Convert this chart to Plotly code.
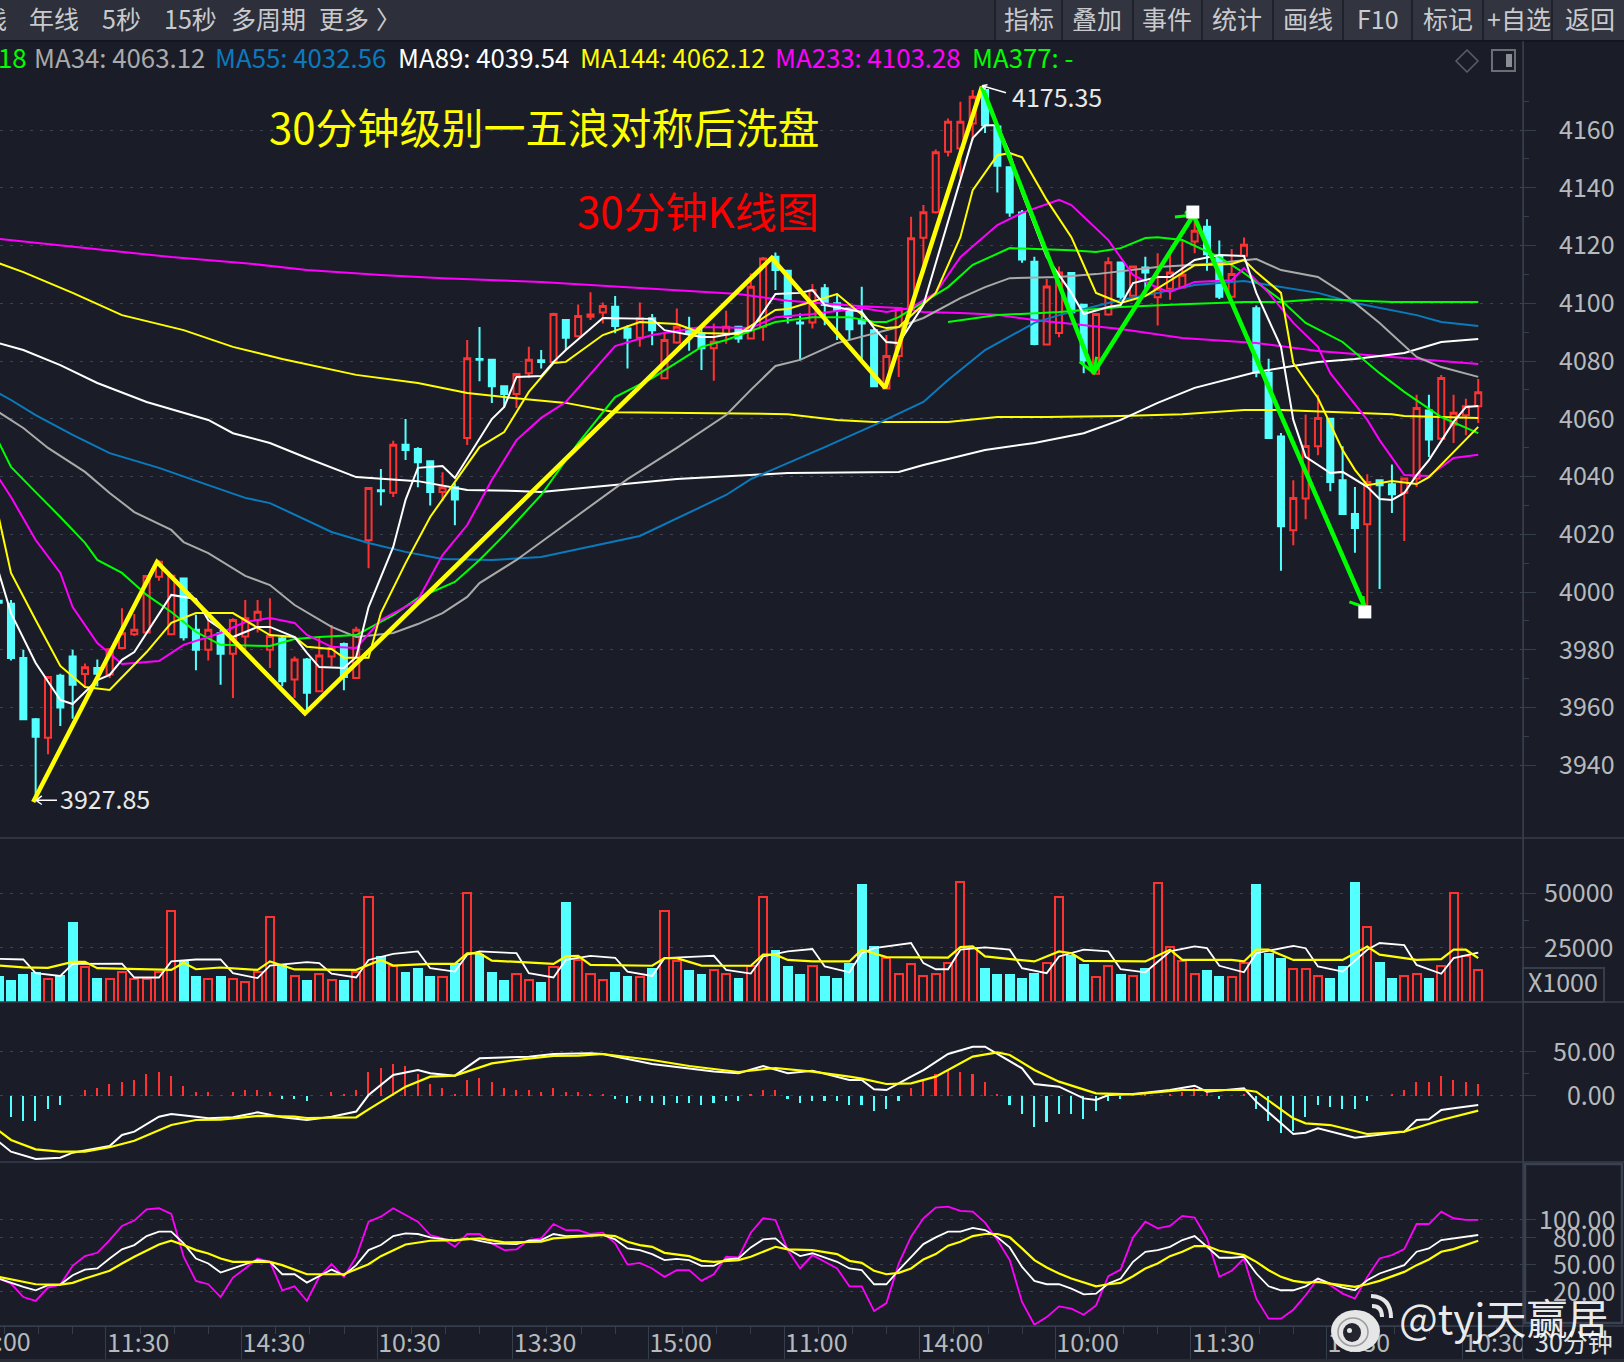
import plotly.graph_objects as go

W, H = 1624, 1362
BG = "#1a1d27"
CYAN = "#54ffff"
RED = "#ff3232"
MAGENTA = "#ff00ff"
YELLOW = "#ffff00"
GREEN = "#00ff00"
BLUE = "#0a7abf"
GRAY = "#aaaaaa"
WHITE = "#ffffff"
AXIS = "#363d4b"
GRID = "#3b4250"
LABEL = "#b6babd"
FONT = "Noto Sans CJK SC"

# Thirty-minute bars, numbered from -1 so the first one sits on the left edge
bars = list(range(-1, 120))
opens = [3997.0,3995.9,3977.1,3955.9,3949.5,3971,3977.7,3971.6,3973.7,3971.4,3980.6,3985.4,3986,4005.3,3985.4,4004.7,3986.9,3980,3985.7,3978.6,3984.6,3990.3,3980,3984,3969.7,3976.6,3965.6,3977.7,3982,3970.2,4017.9,4035.2,4034.4,4051,4049.5,4045.3,4034.6,4036.3,4053.3,4080.7,4080.4,4071.3,4068.6,4075.8,4080.3,4079.7,4094.2,4088.6,4095.3,4096.8,4098.8,4091.3,4088.1,4094.8,4074,4086.4,4091.3,4089.6,4084.4,4089,4091.9,4087.8,4091.9,4116.1,4111.3,4093.3,4093.3,4105.2,4100,4098.2,4094.2,4090.7,4070.5,4081.7,4098.2,4122.7,4131.5,4152.5,4153.6,4162.3,4173.9,4161.2,4147.1,4131.4,4114.4,4085.7,4089.7,4110.5,4099.5,4075.6,4096.1,4114.1,4102.6,4112.4,4102.1,4105,4105.5,4121.4,4126.5,4116.5,4102.3,4116.5,4098.3,4075.9,4053.9,4021.4,4032.4,4050.5,4060,4038.7,4027,4023.5,4038.7,4037.3,4034.4,4039.3,4062.9,4053.1,4057.9,4061.2,4064.3]
highs = [3997.4,3997.2,3980,3956.4,3970.8,3971.7,3980,3975.2,3976.6,3980.6,3994.4,3992.4,4005.9,4011,4005.9,4004.7,3992.1,3990.3,3986.9,3990.9,3997.2,3997.2,3997.8,3984.4,3977.7,3977.1,3984.6,3988.6,3982.5,3988,4036,4042.6,4052.4,4059.9,4050.1,4045.5,4041.5,4037.7,4087.3,4091.8,4080.4,4071.3,4075.5,4084.9,4083.8,4096.7,4094.2,4099.6,4103.8,4100.3,4102.5,4092.4,4100.3,4096.3,4089.6,4098.2,4095.3,4091.9,4093,4097.4,4092.1,4110.3,4116,4117.6,4111.5,4096.5,4106.7,4106.7,4103.4,4098.2,4105.7,4091.3,4089,4098.6,4130,4134,4153.3,4164,4169.8,4173.9,4175.35,4161.4,4147.3,4132.3,4116.1,4108.4,4112.7,4110.5,4099.5,4096.3,4115.9,4114.2,4112.9,4116.1,4117.3,4118.4,4121.7,4128.6,4129.1,4121.7,4118.8,4122.8,4099.2,4080.8,4055.1,4038.7,4061.5,4068.3,4060,4050.5,4036.4,4040.8,4038.7,4044.2,4039.3,4068.3,4068.3,4075.2,4068.3,4066.9,4073.8]
lows = [3996.0,3976.3,3955.6,3927.85,3943.8,3953.6,3956.1,3966.8,3967.4,3970.2,3980.6,3984.8,3985.7,4003.9,3985.4,3983.2,3972.9,3976.3,3967.9,3963.3,3980,3986,3973.7,3967.4,3963.3,3959.3,3965.3,3974.3,3966,3970.2,4008.2,4030,4032.9,4045.7,4036.3,4030,4031.5,4023.1,4050.9,4073,4065.5,4064,4063.7,4074.1,4077.4,4079.2,4083.8,4088.4,4094.2,4093,4089.6,4077.4,4084.9,4085.5,4074,4086,4083.6,4076.9,4073.2,4086,4086.3,4087.8,4087,4104.6,4093,4080.3,4091.3,4092.4,4087.3,4087.3,4080.3,4071.3,4070.5,4074.5,4098.2,4110.3,4131.1,4150.8,4143.8,4156.5,4159,4138.4,4130,4114,4085.5,4085.7,4088.2,4096.3,4075.8,4075.3,4095.7,4100.9,4102.6,4103.2,4092.3,4101.2,4105.5,4117.3,4111.3,4101.5,4102.3,4115.9,4074.4,4053.1,4007.4,4016.2,4025.2,4047.4,4034.9,4027,4013.6,3994.9,4001,4027.4,4017.7,4036.4,4046.8,4053.1,4051.6,4054.3,4058.5]
closes = [3996.3,3977.1,3955.9,3949.9,3970.6,3960,3967.9,3973.9,3971.7,3980.2,3985.7,3986.9,4005.5,4010.5,4005.6,3984.3,3980,3986.9,3978.6,3990.3,3990.9,3993.2,3984.8,3969.1,3976.6,3965.1,3978,3980.6,3970.6,3986.9,4036,4034.9,4051,4049.2,4044.9,4034.6,4036.3,4032,4081,4080.4,4071.3,4068.6,4075.5,4080.4,4079.7,4096.3,4088.1,4095.6,4096.1,4099.1,4092.1,4088.1,4094.8,4090.7,4087.3,4091.9,4089.6,4084.4,4086.7,4091.9,4087.8,4105.7,4115.5,4111.5,4095.3,4093,4104.6,4099.4,4097.6,4091,4093,4071.3,4081.7,4098.2,4122.5,4131.5,4152.3,4162.9,4162.9,4171.5,4161.7,4147.6,4131.4,4115.2,4085.9,4105.8,4110.7,4096.9,4080.2,4096.3,4114.2,4102.3,4112.7,4110.7,4105,4110.7,4109.9,4125.1,4117,4102.3,4110.1,4120.3,4075.9,4053.3,4022.8,4032.6,4050.6,4060.3,4038.1,4027,4022.2,4038.1,4037,4033.9,4039.3,4063.7,4052.8,4074.1,4062.1,4064.3,4069.2]

# Moving averages, given at the bars where each line visibly bends
ma233_x = [-1,5,13,19,24,30,35,43,51,56,59,63,69,72,74,77,80,83,90,95,101,106,112,119]
ma233_y = [4122.3,4119.5,4116,4113.9,4111.5,4109.8,4108.7,4107.4,4105.3,4103.9,4103.2,4100.9,4099,4098.4,4097,4096.6,4096,4094.2,4091.1,4088,4086.2,4083.5,4081.4,4079]
ma144_x = [-1,1,5,9,14,18,22,28,33,37,40,45,49,58,63,67,70,76,80,84,90,95,100,103,108,112,113,119]
ma144_y = [4113.9,4110.8,4103.6,4095.9,4090.7,4084.9,4080.7,4075.2,4072.4,4068.9,4067.5,4065.5,4062.3,4062,4061.6,4059.6,4058.9,4058.9,4060.6,4060.6,4061,4061.6,4063,4063,4062.3,4061.6,4061,4060.3]
ma89_x = [-1,1,4,7,11,16,18,21,24,28,33,37,41,43,54,63,72,74,79,83,87,90,93,96,101,106,109,113,116,119]
ma89_y = [4086.2,4083.8,4078.6,4072.4,4065.8,4059.6,4055,4051.6,4046.4,4039.8,4038.4,4035.3,4035,4034.6,4039.1,4041.2,4041.6,4044,4049.2,4051.6,4055,4059.6,4065.5,4070.7,4076.2,4079.7,4080.7,4082.8,4086.6,4087.6]
ma55_x = [-1,0,2,5,8,12,16,19,21,23,26,29,32,35,39,43,51,58,60,66,70,74,76,79,83,85,90,93,96,100,102,106,109,114,116,119]
ma55_y = [4068.9,4066.5,4061.3,4054.4,4048.1,4043,4037,4032.6,4030.8,4026.7,4020.8,4017,4013.9,4011.4,4011.1,4012.1,4019.4,4033.6,4039.1,4050.2,4057.8,4065.8,4073.4,4083.8,4093.2,4095.9,4101.1,4103.6,4106.3,4107.7,4106.3,4103.6,4100.1,4095.9,4093.5,4092.1]
ma34_x = [-1,1,3,6,8,10,13,14,16,19,21,23,26,28,31,33,35,37,38,41,43,50,54,58,60,62,64,67,72,74,77,79,81,85,88,93,97,101,103,106,108,111,114,116,119]
ma34_y = [4062.3,4056.8,4049.9,4041.6,4034.3,4027.7,4021.5,4017.3,4013.5,4005.6,4002.4,3995.5,3987.9,3984.4,3985.8,3988.9,3992.7,3998.3,4003.1,4011.1,4017.3,4039.1,4049.9,4061.3,4070,4078.3,4080.4,4086.2,4091.8,4094.9,4101.8,4105.6,4108.7,4109.1,4110.1,4112.6,4113.6,4115.3,4111.5,4109.1,4103.6,4093.2,4081.4,4077.9,4074.5]
ma21_x = [-1,0,2,4,6,7,9,11,13,15,17,21,23,25,28,31,33,36,38,40,43,46,49,52,56,58,62,65,68,70,71,72,76,78,81,86,88,90,92,93,95,98,100,103,105,108,111,113,116,119]
ma21_y = [4051.9,4043.3,4034.6,4026,4017,4011.1,4006.6,3999,3993.1,3986.2,3981.7,3981.3,3983.7,3984.4,3985.1,3992,3997.9,4003.5,4011.1,4019.7,4033.6,4051.6,4067.5,4074.1,4084.9,4087.3,4093.5,4095.2,4095.2,4093.5,4093.5,4095.2,4105.6,4113.3,4119.1,4118.4,4117.8,4119.1,4122.6,4122.9,4121.9,4116,4110.5,4101.1,4093.2,4086.6,4075.8,4069.3,4060.6,4055]
ma377_x = [76,80,85,90,95,100,103,106,112,119]
ma377_y = [4093.5,4095.9,4097,4098.7,4099.7,4100.4,4100.4,4101.5,4100.4,4100.4]
ma13_x = [-1,0,2,4,5,7,9,12,14,17,19,21,23,24,26,28,30,33,35,37,39,41,43,45,49,52,56,60,62,65,69,71,73,75,77,80,82,85,86,89,91,93,94,96,99,100,102,104,106,107,110,111,113,115,117,119]
ma13_y = [4039.5,4032.9,4018,4006.6,3994.8,3982.3,3975.1,3976.1,3981.7,3985.8,3989.6,3991,3989.3,3985.1,3981,3980.6,3990.3,3997.2,4012.8,4023.2,4038.8,4052.6,4060.3,4065.8,4085.2,4089,4091.8,4091.4,4095.2,4096.3,4098.4,4097,4098.4,4103.6,4116,4127.1,4131.3,4135.8,4134,4121.9,4109.8,4105.3,4103.9,4107.4,4108,4112.2,4103.6,4093.2,4084.9,4075.8,4059.6,4052.6,4040.5,4040.2,4046.4,4047.5]
ma8_x = [-1,0,2,4,6,8,11,13,15,18,21,23,24,26,27,29,30,32,34,38,40,42,44,45,48,51,54,56,59,62,63,67,70,71,72,75,77,78,80,81,82,84,86,88,90,92,96,99,100,101,103,104,106,108,109,110,112,114,115,117,119]
ma8_y = [4026,4006.6,3990.3,3974.4,3967.1,3966.1,3979.2,3989.3,3992.7,3992.7,3985.1,3984.4,3981,3980.3,3977.2,3977.2,3992.7,4010,4026,4050.2,4055.4,4069.3,4079.3,4079.7,4089,4093.5,4092.8,4089.7,4089.4,4097.7,4098,4103.2,4092.5,4091.4,4091.8,4103.6,4122.9,4139.2,4151.3,4152,4150.6,4135.8,4122.9,4103.6,4100.1,4102.5,4113.2,4113.6,4115,4110.8,4103.6,4079.3,4067.2,4049.2,4042.3,4037,4038.4,4037.4,4039.8,4048.5,4057.2]
ma5_x = [-1,0,2,4,5,7,8,9,10,12,13,15,16,18,20,21,23,24,25,27,28,29,31,32,33,35,36,39,40,41,43,44,45,48,52,53,56,57,60,62,64,65,66,69,70,71,72,74,75,76,78,79,80,81,82,84,86,87,89,90,91,93,94,96,98,100,101,103,104,105,107,108,110,111,112,113,114,115,117,118,119]
ma5_y = [4006.9,3992.7,3975.4,3962.6,3961.2,3969.5,3971.3,3976.5,3979.2,3992.7,3999,3997.6,3990.3,3984.4,3987.9,3987.9,3984.4,3978.9,3974,3973.7,3977.5,3994.8,4015.6,4031.9,4043,4043.6,4039.5,4059.9,4064.1,4074.5,4074.8,4079.7,4083.8,4094.9,4094.6,4090.7,4088.3,4088.3,4090.7,4103.2,4103.6,4104.6,4099.4,4097,4091.4,4086.6,4086.2,4099.4,4113.9,4128.8,4157.2,4161.7,4161.7,4152,4138.2,4116,4103.6,4096.3,4098.7,4099.4,4107,4109.1,4109.1,4115,4116.7,4116.4,4103.6,4084.9,4059.6,4046.8,4041.2,4041.6,4036.4,4032.2,4031.9,4034.3,4040.5,4045.7,4058.9,4064.1,4064.4]

# Volume panel, in thousands of lots
volume = [12000,10200,13000,14000,10500,12500,37000,16000,11100,10500,13900,10500,10500,14000,41800,18700,12000,10500,12000,10500,9400,14000,39000,17100,12200,10200,13100,10200,10200,14000,48300,21300,16800,13900,15700,12000,11300,17900,50100,22100,13900,10200,13100,10200,9300,16000,46300,19400,13100,10200,13900,12000,11300,15700,41800,18700,14800,13000,14800,13100,11100,16400,48300,24100,16700,13000,16700,12000,11100,18200,54600,25600,20500,13100,17600,12200,13100,17900,55400,24800,15700,13000,13000,11100,13300,17900,48300,21800,17600,11300,16800,13000,12200,15700,54800,25200,18700,13100,14800,12000,11300,17900,54600,22500,20500,15000,15000,12200,11100,16700,55500,34400,18500,11100,12200,13100,11100,16800,50100,21000,14800]
vol_ma5_x = [-1,1,2,4,5,9,10,12,13,15,17,18,20,21,24,25,26,28,29,31,33,34,36,37,38,41,42,44,45,47,49,50,52,53,56,57,58,60,61,63,65,66,68,69,70,73,74,75,76,77,79,81,82,84,85,87,89,90,92,94,96,97,98,100,101,104,105,106,108,110,111,113,114,116,117,119]
vol_ma5_y = [19900,19600,13300,12000,17600,17700,11300,11300,18700,19600,19600,13300,11000,16800,18400,17900,13100,11300,19400,22200,23300,15600,14000,21800,23300,22500,13300,11300,19400,21300,20400,14000,12000,20200,21000,21300,14800,13100,21000,23300,24400,16400,13700,22500,24800,27200,17900,15100,15100,24100,25200,24100,15600,13300,21000,24100,23300,15100,13700,23300,25600,24800,16700,13700,22500,25900,24800,16400,14000,24100,27200,26200,17100,13000,20200,22800]
vol_ma10_x = [-1,1,3,5,6,7,13,14,15,17,20,21,23,28,30,31,34,36,37,38,39,44,45,46,47,52,53,54,56,60,61,62,63,65,68,69,71,76,77,78,79,82,83,85,86,87,92,94,95,99,100,101,102,104,108,110,111,114,116,117,118,119]
vol_ma10_y = [16800,16000,15700,18500,18500,15600,14800,18100,15100,15900,14800,18700,15000,14800,19400,16800,17600,17600,22400,22500,19100,17600,21000,21300,17100,16700,20200,20200,16800,16700,21800,21800,19400,18700,18700,24100,20700,20500,25300,25600,21000,19400,18700,23300,22500,19000,18700,24100,19400,19400,18700,24100,24100,19400,19400,25600,21800,19400,19800,24100,24100,20200]

# MACD panel
macd_hist = [0,-23.5,-28,-28,-14.4,-10.2,0,6.8,9,13.6,16,18,25,27,22.7,11.4,4.5,4.5,0,4.5,6.8,6.8,4.5,-3,-3,-5.3,0,4.5,2.3,6.8,27,32,36,34,25,13.6,9,2.3,18,20.5,16,9,6.8,6.8,4.5,9,4.5,4.5,2.3,2.3,-3,-7.6,-5.3,-7.6,-10,-7.6,-7.6,-10,-7.6,-5.3,-5.3,2.3,6.8,6.8,-3,-7.6,-5.3,-5.3,-5.3,-10,-10,-16.7,-14.4,-5.3,9,18,25,29.5,27,25,16,2.3,-10,-21,-35,-30,-21,-21,-25.8,-16.7,-5.3,-3,2.3,1.5,0,2.3,4.5,9,4.5,-3,0,2.3,-14.4,-28,-41.7,-39.4,-23.5,-10,-12,-14.4,-14.4,-5.3,0,1.5,6.8,16,16,22.7,18,16,13.6]
dif_x = [-1,0,2,4,5,8,9,10,12,13,15,16,18,20,22,24,26,28,29,31,33,34,36,38,42,44,47,48,52,57,59,61,63,65,68,69,70,71,73,74,76,78,79,82,83,85,87,88,89,91,92,94,96,97,100,101,104,105,106,109,113,114,115,116,117,119]
dif_y = [-51.9,-63.3,-71.6,-70.1,-64.4,-56.8,-44.3,-40.5,-23.5,-20.5,-23.5,-25.4,-24.2,-18.6,-24.2,-27.3,-23.5,-17.7,1.1,23.9,29.5,25.8,23.1,42.8,44.7,47.7,48.5,47.7,36.4,27.7,25.8,34.1,25.8,28.8,18.2,18.2,7.6,6.8,22,29.5,47.7,56,56,31.4,13.6,10.6,-2.7,-4.5,1.1,2.3,3.8,6.8,11.7,4.9,8.7,-6.4,-43.2,-41.7,-36.7,-47.3,-40.5,-27.3,-26.5,-15.9,-14,-10.2]
dea_x = [-1,0,2,4,6,8,10,13,15,17,20,23,24,28,29,32,34,36,39,41,44,46,48,52,55,59,62,65,68,69,71,73,75,78,80,81,83,85,88,91,95,100,101,104,105,107,110,113,116,119]
dea_y = [-39.4,-50,-60.6,-63.3,-63.3,-58.3,-50.8,-33,-27.3,-26.9,-22.7,-23.5,-25,-24.2,-15.2,10.6,22,23.1,37.1,40.9,45.5,45.8,47.7,40.9,34.1,27.3,31.8,27.7,22,19.7,13.6,14.4,22,44.7,49.6,46.6,29.5,16.3,3,1.9,6.8,6.8,4.9,-25.4,-31.1,-33,-43.2,-40.5,-27.3,-16.7]

# KDJ panel
j_line = [34.9,29.3,14.4,10,24.9,28.2,49,59.8,63.5,77.7,93.3,99.3,111.9,113,106.7,59.1,32.3,28.6,14.4,36,46.1,57.2,53.5,21.9,26.3,10,36.8,50.9,36.8,59.1,98.1,103.7,113,105.6,98.1,83.3,79.5,70.2,84.4,84.4,74,66.5,67.3,77.7,79.5,95.5,88.8,88.8,84.4,85.9,74,50.5,52.4,46.1,36.8,44.2,44.2,32.3,39.7,59.1,58.3,85.9,101.9,100,66.5,46.1,60.9,53.5,46.1,26.3,26.3,-1.2,7.7,51.6,81.4,101.9,113.8,114.9,110,109.3,97,77.7,55.4,8.9,-16.4,-7.9,4,1.4,-5.3,5.1,37.5,44.9,80.7,98.1,90.7,93.3,104.5,102.6,79.5,36.8,43.5,57.2,12.6,-9.7,-9.7,0.3,16.3,34.9,27.5,18.2,12.6,36.8,57.2,60.9,67.6,95.5,95.5,109.3,101.9,100,100]
k_x = [-1,1,2,3,4,5,6,7,8,9,10,11,12,13,14,15,16,17,18,20,21,22,23,24,26,27,28,29,30,31,32,33,34,36,37,39,41,42,43,44,45,47,48,49,50,51,52,53,54,55,56,57,58,59,60,61,62,63,64,65,67,68,69,70,71,72,73,74,75,76,77,78,79,80,81,82,83,84,85,86,87,88,89,90,91,92,93,94,95,96,97,98,99,100,101,102,103,104,105,106,107,108,109,110,111,113,114,115,116,117,119]
k_y = [34.9,25.6,21.9,27.5,28.2,38.6,44.9,46.1,57.2,67.3,72.1,82.1,87,87,74,57.2,51.6,41.6,46.1,55.4,53.5,39.7,39.7,30.4,44.9,38.6,49.8,66.5,72.1,82.1,85.1,84.4,80.7,76.9,79.5,74,73.2,76.9,77.7,84.4,82.1,83.3,83.3,78.4,68.4,66.5,62.1,55.4,56.8,55.4,49,49,56.1,57.2,69.5,78.4,79.5,67.6,59.8,63,53.5,46.1,44.2,28.6,28.6,44.2,59.1,73.2,80.7,87,87,91.1,88.8,80.7,69.5,47.9,32.3,28.6,28.6,23.7,17.4,18.2,29.3,34.9,53.5,64.7,66.5,70.2,77.7,82.1,70.2,58,58,59.1,40.5,26.3,21.9,21.9,26.3,34.9,29.3,24.9,21.9,33,40.5,49.8,64.7,68.4,77.7,79.5,83.3]
d_x = [-1,0,2,4,5,6,8,9,10,12,13,14,15,16,17,18,21,22,24,26,27,29,30,32,34,36,38,40,43,44,48,49,50,51,52,53,55,56,57,59,60,62,63,65,67,68,69,70,71,72,73,74,75,76,77,78,79,80,81,82,83,84,85,86,87,88,89,90,91,92,93,94,95,96,97,98,99,100,101,102,103,104,105,106,107,108,109,110,111,113,114,115,116,117,119]
d_y = [36.8,34.2,28.6,28.2,30.1,34.9,43.5,51.6,59.1,72.8,76.9,72.1,66.5,62.8,57.2,53.5,53.5,49.8,39.7,39.7,39.7,50.9,59.8,72.8,76.9,77.7,79.5,75.1,75.8,79.5,83.3,82.1,75.8,72.1,70.2,63.5,59.8,54.6,53.5,55.4,59.1,70.2,67.3,66.5,62.1,54.6,52.4,43.5,39.7,41.2,46.1,56.1,62.1,71.4,75.8,82.1,84.4,84.4,80.7,68.4,55.4,47.2,40.5,34.9,30.4,26.3,28.6,30.1,37.5,46.1,51.6,59.8,64.7,71,71,65.8,63.5,60.9,53.5,44.2,36.8,32.3,30.4,31.2,29.3,27.5,25.6,28.6,32.3,42.3,49.8,56.1,64.7,67.6,76.9]

# Hand-drawn wave counts on the price panel
wave_up_x = [1.8,11.84,23.84,61.7,70.9,78.75]
wave_up_y = [3927.3,4010.4,3958,4115.7,4070.7,4175]
wave_down_x = [78.75,87.8,95.9,109.8]
wave_down_y = [4175,4075.9,4130.6,3994.8]
tip_x = [95.85,109.8]
tip_y = [4131.6,3993.1]
arrow_heads_x = [86.67,87.8,88.05,None,94.4,95.9,95.2,None,108.55,109.75,109.65]
arrow_heads_y = [4079.8,4075.9,4081.5,None,4129.9,4130.6,4131.6,None,3996.6,3994.8,3998.6]
low_leader_x = [3.73,2.03,2.5,None,2.03,2.5]
low_leader_y = [3927.85,3927.85,3929.4,None,3927.85,3926.4]
high_leader_x = [80.7,78.75,79.2,None,78.75,79.0]
high_leader_y = [4172.9,4175.35,4175.7,None,4175.35,4174]

# Axis labels
price_ticks = [3940,3960,3980,4000,4020,4040,4060,4080,4100,4120,4140,4160]
volume_ticks = [25000,50000]
macd_ticks = [0,50]
macd_text = ["\u20070.00","50.00"]
kdj_ticks = [20,50,80,100]
kdj_text = ["\u200720.00","\u200750.00","\u200780.00","100.00"]
time_ticks = [7.7,18.7,29.7,40.7,51.7,62.7,73.7,84.7,95.7,106.7,117.7]
time_text = ["11:30","14:30","10:30","13:30","15:00","11:00","14:00","10:00","11:30","14:30","10:30"]

legend_items = [("18",-4,GREEN),("MA34: 4063.12",32,GRAY),("MA55: 4032.56",213,BLUE),("MA89: 4039.54",396,WHITE),
                ("MA144: 4062.12",578,YELLOW),("MA233: 4103.28",773,MAGENTA),("MA377: -",970,GREEN)]
left_menu = [("年线",54),("5秒",121),("15秒",190),("多周期",268),("更多",344),("〉",388)]
right_menu = [("指标",1029),("叠加",1097),("事件",1167),("统计",1237),("画线",1308),("F10",1378),("标记",1448),("+自选",1519),("返回",1590)]
menu_separators = [995,1062,1133,1202,1273,1343,1412,1483,1552]


def px(x):
    return x / W


def py(y):
    return 1 - y / H


def domain(top, bottom):
    return [py(bottom), py(top)]


def text(s, x, y, color, size, anchor="left"):
    # The CJK face sits about two pixels low in its line box
    return dict(text=s, x=px(x), y=py(y - 2), xref="paper", yref="paper", xanchor=anchor, yanchor="middle",
                showarrow=False, font=dict(family=FONT, size=size, color=color))


def line_trace(xs, ys, color, width, yaxis="y"):
    return go.Scatter(x=xs, y=ys, mode="lines", yaxis=yaxis, line=dict(color=color, width=width),
                      connectgaps=False, hoverinfo="skip", showlegend=False)


fig = go.Figure()

fig.add_trace(go.Candlestick(
    x=bars, open=opens, high=highs, low=lows, close=closes, yaxis="y", showlegend=False, hoverinfo="skip",
    increasing=dict(line=dict(color=RED, width=2), fillcolor=BG),
    decreasing=dict(line=dict(color=CYAN, width=2), fillcolor=CYAN),
    whiskerwidth=0,
))
for xs, ys, color, width in [
    (ma233_x, ma233_y, MAGENTA, 2), (ma144_x, ma144_y, YELLOW, 2), (ma89_x, ma89_y, WHITE, 2),
    (ma55_x, ma55_y, BLUE, 2), (ma34_x, ma34_y, GRAY, 2), (ma21_x, ma21_y, GREEN, 2),
    (ma377_x, ma377_y, GREEN, 2), (ma13_x, ma13_y, MAGENTA, 2), (ma8_x, ma8_y, YELLOW, 2), (ma5_x, ma5_y, WHITE, 2),
]:
    fig.add_trace(line_trace(xs, ys, color, width))

fig.add_trace(line_trace(wave_up_x, wave_up_y, YELLOW, 4.5))
fig.add_trace(line_trace(wave_down_x, wave_down_y, GREEN, 4.5))
fig.add_trace(line_trace(arrow_heads_x, arrow_heads_y, GREEN, 3))
fig.add_trace(line_trace(low_leader_x, low_leader_y, WHITE, 1.5))
fig.add_trace(line_trace(high_leader_x, high_leader_y, WHITE, 1.5))
fig.add_trace(go.Scatter(x=tip_x, y=tip_y, mode="markers", yaxis="y", hoverinfo="skip", showlegend=False,
                         marker=dict(symbol="square", size=13, color=WHITE)))

# Volume: falling bars are filled, rising bars are hollow
rising = [c > o for o, c in zip(opens, closes)]
fig.add_trace(go.Bar(x=[b for b, r in zip(bars, rising) if not r], y=[v for v, r in zip(volume, rising) if not r],
                     yaxis="y2", width=0.8, marker=dict(color=CYAN, line=dict(width=0)), hoverinfo="skip", showlegend=False))
fig.add_trace(go.Bar(x=[b for b, r in zip(bars, rising) if r], y=[v for v, r in zip(volume, rising) if r],
                     yaxis="y2", width=0.66, marker=dict(color=BG, line=dict(color=RED, width=2)), hoverinfo="skip", showlegend=False))
fig.add_trace(line_trace(vol_ma5_x, vol_ma5_y, WHITE, 1.8, "y2"))
fig.add_trace(line_trace(vol_ma10_x, vol_ma10_y, YELLOW, 2.2, "y2"))

# MACD histogram and its two lines
fig.add_trace(go.Bar(x=[b for b, v in zip(bars, macd_hist) if v >= 0], y=[v for v in macd_hist if v >= 0], yaxis="y3",
                     width=0.13, marker=dict(color=RED, line=dict(width=0)), hoverinfo="skip", showlegend=False))
fig.add_trace(go.Bar(x=[b for b, v in zip(bars, macd_hist) if v < 0], y=[v for v in macd_hist if v < 0], yaxis="y3",
                     width=0.13, marker=dict(color=CYAN, line=dict(width=0)), hoverinfo="skip", showlegend=False))
fig.add_trace(line_trace(dif_x, dif_y, WHITE, 2, "y3"))
fig.add_trace(line_trace(dea_x, dea_y, YELLOW, 2.2, "y3"))

# KDJ
fig.add_trace(line_trace(bars, j_line, MAGENTA, 1.8, "y4"))
fig.add_trace(line_trace(k_x, k_y, WHITE, 1.8, "y4"))
fig.add_trace(line_trace(d_x, d_y, YELLOW, 2.2, "y4"))

value_axis = dict(
    side="right", anchor="x", showline=True, linecolor=AXIS, linewidth=1, zeroline=False,
    showgrid=True, gridcolor=GRID, griddash="3px,7px", gridwidth=1,
    ticks="outside", ticklen=12, tickcolor=AXIS, tickwidth=1, automargin=False,
    tickfont=dict(family=FONT, size=25, color=LABEL), fixedrange=True,
)
minor_ticks = dict(ticks="outside", ticklen=5, tickcolor=AXIS, showgrid=False)

fig.update_layout(
    width=W, height=H, margin=dict(l=0, r=0, t=0, b=0, autoexpand=False), autosize=False,
    paper_bgcolor=BG, plot_bgcolor=BG, showlegend=False, barmode="overlay", bargap=0,
    font=dict(family=FONT),
    xaxis=dict(
        domain=[0, px(1523)], range=[-0.892, 122.63], anchor="y4", showgrid=False, zeroline=False,
        showline=True, linecolor=AXIS, rangeslider=dict(visible=False), fixedrange=True, automargin=False,
        tickmode="array", tickvals=time_ticks, ticktext=time_text, ticks="outside", ticklen=32,
        tickcolor=AXIS, tickwidth=1, ticklabelposition="outside right", ticklabelstandoff=-5,
        tickfont=dict(family=FONT, size=25, color=LABEL),
        minor=dict(tickmode="array", tickvals=[t + k * 2.77 for t in [-3.3] + time_ticks for k in (1, 2, 3)],
                   ticks="outside", ticklen=7, tickcolor=AXIS, showgrid=False),
    ),
    yaxis=dict(value_axis, domain=domain(44, 838), range=[3914.8, 4189.8], tickmode="array", tickvals=price_ticks,
               ticktext=[str(t) for t in price_ticks], ticklabelstandoff=18,
               minor=dict(minor_ticks, tickmode="array", tickvals=[t + 10 for t in price_ticks])),
    yaxis2=dict(value_axis, domain=domain(838, 1002), range=[0, 75600], tickmode="array", tickvals=volume_ticks,
                ticktext=[str(t) for t in volume_ticks], ticklabelstandoff=3,
                minor=dict(minor_ticks, tickmode="array", tickvals=[37500])),
    yaxis3=dict(value_axis, domain=domain(1002, 1162), range=[-75, 106.8], tickmode="array", tickvals=macd_ticks,
                ticktext=macd_text, ticklabelstandoff=12,
                minor=dict(minor_ticks, tickmode="array", tickvals=[25])),
    yaxis4=dict(value_axis, domain=domain(1162, 1326), range=[-17.8, 164.4], tickmode="array", tickvals=kdj_ticks,
                ticktext=kdj_text, ticklabelstandoff=-2),
)

shapes = []


def rect(x0, y0, x1, y1, fill=BG, line=None, width=0, layer="above"):
    shapes.append(dict(type="rect", xref="paper", yref="paper", x0=px(x0), x1=px(x1), y0=py(y0), y1=py(y1),
                       fillcolor=fill, line=dict(color=line, width=width) if line else dict(width=0), layer=layer))


def seg(x0, y0, x1, y1, color=AXIS, width=1.5):
    shapes.append(dict(type="line", xref="paper", yref="paper", x0=px(x0), x1=px(x1), y0=py(y0), y1=py(y1),
                       line=dict(color=color, width=width), layer="above"))


def oval(x0, y0, x1, y1, fill, line=None, width=0):
    shapes.append(dict(type="circle", xref="paper", yref="paper", x0=px(x0), x1=px(x1), y0=py(y0), y1=py(y1),
                       fillcolor=fill, line=dict(color=line, width=width) if line else dict(width=0), layer="above"))


def curve(pts, color, width=None, fill=None):
    d = "M{:.5f},{:.5f}".format(px(pts[0][0]), py(pts[0][1]))
    d += " Q{:.5f},{:.5f} {:.5f},{:.5f}".format(px(pts[1][0]), py(pts[1][1]), px(pts[2][0]), py(pts[2][1]))
    shapes.append(dict(type="path", xref="paper", yref="paper", path=d, line=dict(color=color, width=width), layer="above"))


# Toolbar across the top
rect(0, 0, W, 40, fill="#2d2f3b")
rect(995, 0, W, 40, fill="#32343f")
for x in menu_separators:
    seg(x, 0, x, 40, color="#1f212b", width=2)
seg(0, 41, W, 41, color="#14161e", width=2)

# Panel separators and the frames on the value scale
for y in (838, 1002, 1162):
    seg(0, y, W, y)
seg(1523, 41, 1523, H)
seg(0, 1326, W, 1326)
rect(1523, 1327, W, 1358)
rect(0, 1359, W, H, fill="#2a2c36")
rect(1523, 968, 1604, 1002, fill="rgba(0,0,0,0)", line=AXIS, width=2)
rect(1525, 1164, 1622, 1323, fill="rgba(0,0,0,0)", line="#3a4150", width=2.5)

# Chart tool icons at the top right of the price panel
shapes.append(dict(type="path", xref="paper", yref="paper", layer="above", line=dict(color="#5b5e66", width=1.5),
                   path="M{:.5f},{:.5f} L{:.5f},{:.5f} L{:.5f},{:.5f} L{:.5f},{:.5f} Z".format(
                       px(1467), py(50), px(1478), py(61), px(1467), py(72), px(1456), py(61))))
rect(1492, 50, 1515, 71, fill="rgba(0,0,0,0)", line="#6b6e75", width=2)
rect(1506, 54, 1512, 67, fill="#8a8d93")

# Weibo mark beside the handle
oval(1331, 1310, 1380, 1352, "#e6e6e6")
oval(1338, 1318, 1368, 1346, "#e6e6e6", line="#9a9c9f", width=1.5)
oval(1343, 1323, 1361, 1342, "#23262e")
oval(1347, 1328, 1352, 1333, "#e6e6e6")
curve([(1371, 1296), (1391, 1297), (1391, 1318)], "#e6e6e6", 4)
curve([(1372, 1306), (1382, 1306), (1382, 1317)], "#e6e6e6", 4)

annotations = [
    text("线", 9, 20, "#c9cacd", 25, anchor="right"),
    text("30分钟级别一五浪对称后洗盘", 267, 127, YELLOW, 42),
    text("30分钟K线图", 575, 212, "#ff0000", 42),
    text("3927.85", 58, 800, "#e8e8e8", 25),
    text("4175.35", 1010, 98, "#e8e8e8", 25),
    text(":00", 33, 1342, LABEL, 25, anchor="right"),
    text("X1000", 1563, 983, LABEL, 25, anchor="center"),
    text("30分钟", 1533, 1343, "#e2e2e2", 25),
    text("@tyj天赢居", 1397, 1318, "rgba(255,255,255,0.93)", 41),
]
for label, x, color in legend_items:
    annotations.append(text(label, x, 59, color, 25.8))
for label, x in left_menu:
    annotations.append(text(label, x, 20, "#c9cacd", 25, anchor="center"))
for label, x in right_menu:
    annotations.append(text(label, x, 20, "#c9cacd", 25, anchor="center"))

fig.update_layout(shapes=shapes, annotations=annotations)
fig.write_html("out.html", config=dict(displayModeBar=False))
